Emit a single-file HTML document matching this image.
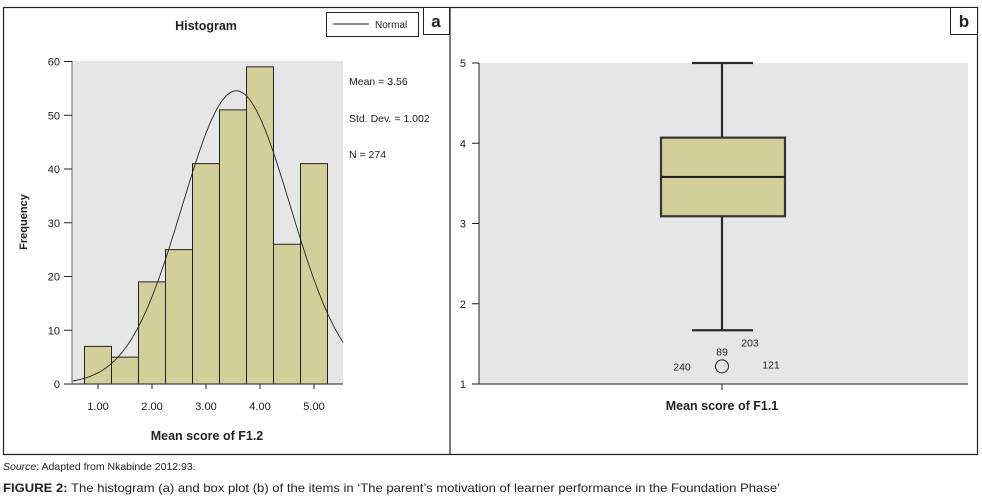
<!DOCTYPE html>
<html><head><meta charset="utf-8"><style>
body{margin:0;background:#fff;width:982px;height:500px;overflow:hidden;font-family:"Liberation Sans",sans-serif}
svg{display:block}
text{font-family:"Liberation Sans",sans-serif;fill:#222}
</style></head><body>
<svg id="fig" width="982" height="500">
  <rect x="3.5" y="7.5" width="974" height="447" fill="none" stroke="#222" stroke-width="1.2"/>
  <line x1="450" y1="7" x2="450" y2="455" stroke="#222" stroke-width="1.2"/>
  <rect x="423.5" y="7.5" width="26" height="27" fill="#fff" stroke="#222"/>
  <text x="436" y="27" font-size="17" font-weight="bold" text-anchor="middle">a</text>
  <rect x="950.5" y="7.5" width="27" height="27" fill="#fff" stroke="#222"/>
  <text x="964" y="27" font-size="17" font-weight="bold" text-anchor="middle">b</text>

  <g id="hist">
    <text x="206" y="30" font-size="12.5" font-weight="bold" text-anchor="middle">Histogram</text>
    <rect x="326.5" y="12.5" width="92" height="24" fill="#fff" stroke="#222"/>
    <line x1="333" y1="24" x2="369" y2="24" stroke="#222"/>
    <text x="375" y="28" font-size="10">Normal</text>
    <rect x="72" y="61" width="271" height="323" fill="#e6e6e6"/>
    <g id="hbars"></g>
    <path id="hcurve" fill="none" stroke="#222" stroke-width="0.9"/>
    <line x1="72" y1="61" x2="72" y2="384" stroke="#888" stroke-width="1.3"/>
    <line x1="66" y1="384" x2="343" y2="384" stroke="#222"/>
    <g id="hticks"></g>
    <text transform="translate(27,222) rotate(-90)" font-size="11" font-weight="bold" text-anchor="middle">Frequency</text>
    <text x="207" y="440" font-size="12.5" font-weight="bold" text-anchor="middle">Mean score of F1.2</text>
    <text x="349" y="85" font-size="10.5">Mean = 3.56</text>
    <text x="349" y="122" font-size="10.5">Std. Dev. = 1.002</text>
    <text x="349" y="158" font-size="10.5">N = 274</text>
  </g>

  <g id="box">
    <rect x="479" y="63" width="489" height="321" fill="#e6e6e6"/>
    <line x1="479" y1="63" x2="479" y2="384" stroke="#222"/>
    <line x1="479" y1="384" x2="968" y2="384" stroke="#222"/>
    <line x1="722" y1="384" x2="722" y2="390" stroke="#222"/>
    <g id="bticks"></g>
    <g id="bmarks"></g>
    <text x="722" y="410" font-size="12.5" font-weight="bold" text-anchor="middle">Mean score of F1.1</text>
  </g>

  <text x="3" y="470" font-size="10.5"><tspan font-style="italic">Source</tspan>: Adapted from Nkabinde 2012:93.</text>
  <text x="3" y="492" font-size="12" textLength="777" lengthAdjust="spacingAndGlyphs"><tspan font-weight="bold">FIGURE 2:</tspan> The histogram (a) and box plot (b) of the items in ‘The parent’s motivation of learner performance in the Foundation Phase’</text>
</svg>
<script>
const binStarts = [0.75,1.25,1.75,2.25,2.75,3.25,3.75,4.25,4.75];
const binWidth = 0.5;
const frequencies = [7,5,19,25,41,51,59,26,41];
const yTicks = [0,10,20,30,40,50,60];
const xTicks = [1,2,3,4,5];
const xTickLabels = ["1.00","2.00","3.00","4.00","5.00"];
const mean = 3.56, sd = 1.002, n = 274;
const boxYTicks = [1,2,3,4,5];
const boxStats = [1.67, 3.09, 3.58, 4.07, 5.0]; // whiskerLow, Q1, median, Q3, whiskerHigh
const outlierValues = [1.22];
const outlierLabels = ["240","89","203","121"];

const NS="http://www.w3.org/2000/svg";
function mk(tag,attrs,parent,txt){const e=document.createElementNS(NS,tag);for(const k in attrs)e.setAttribute(k,attrs[k]);if(txt!==undefined)e.textContent=txt;parent.appendChild(e);return e;}
const hx=v=>98+(v-1)*54, hy=v=>384-v*5.375;
const by=v=>384-(v-1)*80.25;

const hbars=document.getElementById('hbars');
binStarts.forEach((s,i)=>{
  const r=mk('rect',{x:hx(s),y:hy(frequencies[i]),width:hx(s+binWidth)-hx(s),height:hy(0)-hy(frequencies[i]),fill:'#d3cf9a',stroke:'#222','stroke-width':1},hbars);
  
  
});
let d='';
for(let v=0.52;v<=5.54;v+=0.02){
  const f=n*binWidth/(sd*Math.sqrt(2*Math.PI))*Math.exp(-0.5*((v-mean)/sd)**2);
  d+=(d?'L':'M')+hx(v).toFixed(1)+','+hy(f).toFixed(1);
}
document.getElementById('hcurve').setAttribute('d',d);
const ht=document.getElementById('hticks');
yTicks.forEach(t=>{
  const l=mk('line',{x1:64,x2:72,y1:hy(t),y2:hy(t),stroke:'#222'},ht);
  
  
  const tx=mk('text',{x:60,y:hy(t)+4,'font-size':11,'text-anchor':'end'},ht,String(t));
  
  
});
xTicks.forEach((t,i)=>{
  const l=mk('line',{x1:hx(t),x2:hx(t),y1:384,y2:389,stroke:'#222'},ht);
  
  
  const tx=mk('text',{x:hx(t),y:410,'font-size':11,'text-anchor':'middle'},ht,xTickLabels[i]);
  
  
});

const bt=document.getElementById('bticks');
boxYTicks.forEach(t=>{
  const l=mk('line',{x1:472,x2:479,y1:by(t),y2:by(t),stroke:'#222'},bt);
  
  
  const tx=mk('text',{x:466,y:by(t)+4,'font-size':11,'text-anchor':'end'},bt,String(t));
  
  
});
const bm=document.getElementById('bmarks');
const cx=722,bl=661,br=785,cl=692,cr=753;
const [wl,q1,med,q3,wh]=boxStats;
let e;
e=mk('line',{x1:cx,x2:cx,y1:by(wh),y2:by(q3),stroke:'#2a2a2a','stroke-width':2.2},bm);


e=mk('line',{x1:cx,x2:cx,y1:by(q1),y2:by(wl),stroke:'#2a2a2a','stroke-width':2.2},bm);


e=mk('line',{x1:cl,x2:cr,y1:by(wh),y2:by(wh),stroke:'#2a2a2a','stroke-width':2.2},bm);


e=mk('line',{x1:cl,x2:cr,y1:by(wl),y2:by(wl),stroke:'#2a2a2a','stroke-width':2.2},bm);


e=mk('rect',{x:bl,y:by(q3),width:br-bl,height:by(q1)-by(q3),fill:'#d3cf9a',stroke:'#333','stroke-width':2.2},bm);


e=mk('line',{x1:bl,x2:br,y1:by(med),y2:by(med),stroke:'#222','stroke-width':2.2},bm);


outlierValues.forEach(v=>{
  const c=mk('circle',{cx:cx,cy:by(v),r:6.5,fill:'none',stroke:'#222','stroke-width':1},bm);
  
  
  const v0=by(v);
  const offs=[[-40,4],[0,-11],[28,-20],[49,2]];
  outlierLabels.forEach((lab,i)=>{
    const t=mk('text',{x:cx+offs[i][0],y:v0+offs[i][1],'font-size':10.5,'text-anchor':'middle'},bm,lab);
    
    
  });
});
</script>
</body></html>
